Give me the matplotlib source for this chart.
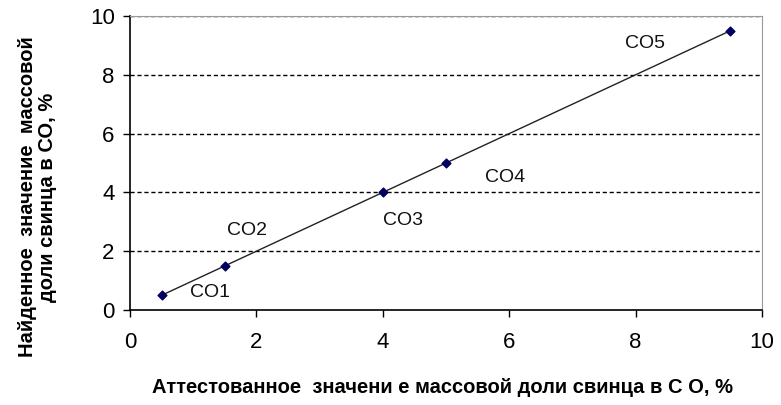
import matplotlib
matplotlib.use("Agg")
import matplotlib.pyplot as plt

plt.rcParams['font.family'] = ['Liberation Sans', 'DejaVu Sans']

x_vals = [0.5, 1.5, 4, 5, 9.5]
y_vals = [0.5, 1.5, 4, 5, 9.5]
point_labels = ["CO1", "CO2", "CO3", "CO4", "CO5"]
label_pos = [(1.27, 0.58), (1.85, 2.72), (4.32, 3.06), (5.93, 4.49), (8.15, 9.08)]
ticks = [0, 2, 4, 6, 8, 10]

fig = plt.figure(figsize=(7.81, 4.05), dpi=100)
ax = fig.add_axes([130/781, 1-310/405, (762-130)/781, (310-16)/405])

ax.plot(x_vals, y_vals, color='#222222', lw=1.0, zorder=3)
ax.scatter(x_vals, y_vals, marker='D', s=20, color='#000060', zorder=4)
for lab, (lx, ly) in zip(point_labels, label_pos):
    ax.text(lx, ly, lab, fontsize=14, ha='center', va='center', color='#111111')

ax.set_xlim(0, 10)
ax.set_ylim(0, 10)
ax.set_xticks(ticks)
ax.set_yticks(ticks)
ax.tick_params(axis='both', labelsize=16, direction='out', length=5, width=1)
ax.tick_params(axis='x', pad=11)
ax.tick_params(axis='y', pad=6)
for y in ticks[1:]:
    ax.axhline(y, color='black', lw=1.0, ls=(0, (3, 2)), zorder=1)

ax.spines['left'].set_linewidth(1.2)
ax.spines['bottom'].set_linewidth(1.2)
ax.spines['right'].set_color('#999999')
ax.spines['top'].set_color('#999999')

ax.set_xlabel("Аттестованное  значени е массовой доли свинца в С О, %",
              fontsize=14.5, fontweight='bold', va='center')
ax.xaxis.set_label_coords(0.494, -0.262)
ax.set_ylabel("Найденное  значение  массовой\nдоли свинца в СО, %",
              fontsize=14.5, fontweight='bold', va='center', linespacing=1.05)
ax.yaxis.set_label_coords(-0.146, 0.384)

fig.savefig("out.png", dpi=100)
